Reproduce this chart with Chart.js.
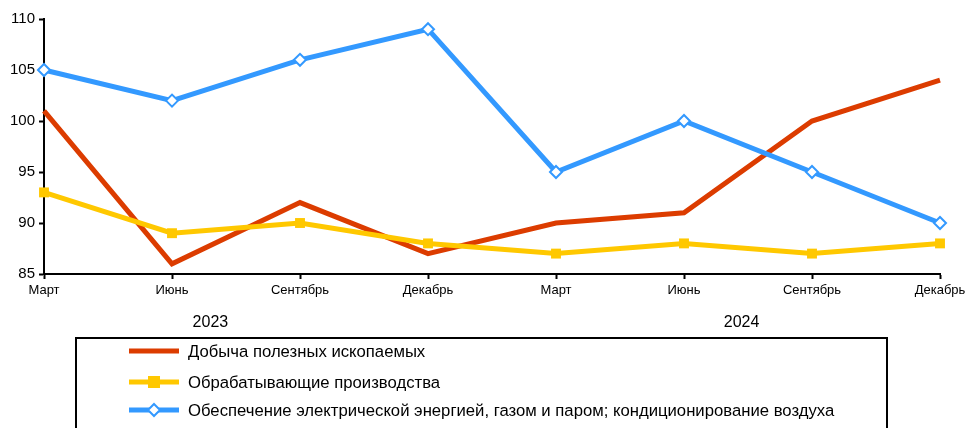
<!DOCTYPE html>
<html>
  <head>
    <title>Индексы производства</title>
    <script src="https://cdn.jsdelivr.net/npm/chart.js"></script>
    <style>
      body {
        margin: 0;
        background: #fff;
      }
      #box {
        width: 966px;
        height: 428px;
      }
    </style>
  </head>
  <body>
    <div id="box"><canvas id="chart"></canvas></div>
    <script>
      // data
      let months = ["Март", "Июнь", "Сентябрь", "Декабрь", "Март", "Июнь", "Сентябрь", "Декабрь"];
      let years = ["2023", "2024"];
      let mining = [101, 86, 92, 87, 90, 91, 100, 104];
      let manufacturing = [93, 89, 90, 88, 87, 88, 87, 88];
      let energy = [105, 102, 106, 109, 95, 100, 95, 90];
      let seriesNames = [
        "Добыча полезных ископаемых",
        "Обрабатывающие производства",
        "Обеспечение электрической энергией, газом и паром; кондиционирование воздуха",
      ];
      let colors = ["#dc3c00", "#ffc800", "#3399ff"];

      let font = "Arial, 'Liberation Sans', sans-serif";

      // year labels under the month ticks + boxed legend
      let extras = {
        id: "extras",
        afterDraw(chart) {
          let ctx = chart.ctx;
          let x = chart.scales.x;
          ctx.save();
          ctx.fillStyle = "#000";
          ctx.font = "16px " + font;
          ctx.textAlign = "center";
          ctx.textBaseline = "middle";
          let yearPos = [1.3, 5.45];
          years.forEach((y, i) => {
            let px = x.getPixelForValue(0) + (x.getPixelForValue(1) - x.getPixelForValue(0)) * yearPos[i];
            ctx.fillText(y, px, 323);
          });

          // legend box
          ctx.strokeStyle = "#000";
          ctx.lineWidth = 2;
          ctx.strokeRect(76, 338, 811, 100);

          let rows = [351, 382, 410];
          ctx.textAlign = "left";
          ctx.font = "16.7px " + font;
          rows.forEach((ry, i) => {
            ctx.strokeStyle = colors[i];
            ctx.lineWidth = 5;
            ctx.beginPath();
            ctx.moveTo(129, ry);
            ctx.lineTo(179, ry);
            ctx.stroke();
            if (i == 1) {
              ctx.fillStyle = colors[1];
              ctx.fillRect(148, ry - 6, 12, 12);
            }
            if (i == 2) {
              ctx.fillStyle = "#fff";
              ctx.lineWidth = 2;
              ctx.beginPath();
              ctx.moveTo(154, ry - 6);
              ctx.lineTo(160, ry);
              ctx.lineTo(154, ry + 6);
              ctx.lineTo(148, ry);
              ctx.closePath();
              ctx.fill();
              ctx.stroke();
            }
            ctx.fillStyle = "#000";
            ctx.fillText(seriesNames[i], 188, ry + 1);
          });
          ctx.restore();
        },
      };

      new Chart(document.getElementById("chart"), {
        type: "line",
        data: {
          labels: months,
          datasets: [
            {
              label: seriesNames[0],
              data: mining,
              borderColor: colors[0],
              borderWidth: 5,
              pointRadius: 0,
              order: 3,
            },
            {
              label: seriesNames[1],
              data: manufacturing,
              borderColor: colors[1],
              backgroundColor: colors[1],
              borderWidth: 5,
              pointStyle: "rect",
              pointRadius: 7,
              pointBorderWidth: 0,
              order: 2,
            },
            {
              label: seriesNames[2],
              data: energy,
              borderColor: colors[2],
              borderWidth: 5,
              pointStyle: "rectRot",
              pointRadius: 6,
              pointBackgroundColor: "#fff",
              pointBorderColor: colors[2],
              pointBorderWidth: 2,
              order: 1,
            },
          ],
        },
        options: {
          responsive: true,
          maintainAspectRatio: false,
          animation: false,
          layout: { padding: { top: 19, right: 26, left: 0, bottom: 0 } },
          plugins: { legend: { display: false }, tooltip: { enabled: false } },
          scales: {
            x: {
              afterFit: (s) => {
                s.height = 428 - 274;
                s.paddingLeft = 0;
                s.paddingRight = 0;
              },
              grid: { drawOnChartArea: false, color: "#000", tickLength: 5, tickWidth: 2 },
              border: { color: "#000", width: 2 },
              ticks: { color: "#000", font: { family: font, size: 13 }, maxRotation: 0, autoSkip: false, padding: 4 },
            },
            y: {
              min: 85,
              max: 110,
              afterFit: (s) => (s.width = 44),
              grid: { drawOnChartArea: false, color: "#000", tickLength: 5, tickWidth: 2 },
              border: { color: "#000", width: 2 },
              ticks: { stepSize: 5, color: "#000", font: { family: font, size: 15 }, padding: 4 },
            },
          },
        },
        plugins: [extras],
      });
    </script>
  </body>
</html>
